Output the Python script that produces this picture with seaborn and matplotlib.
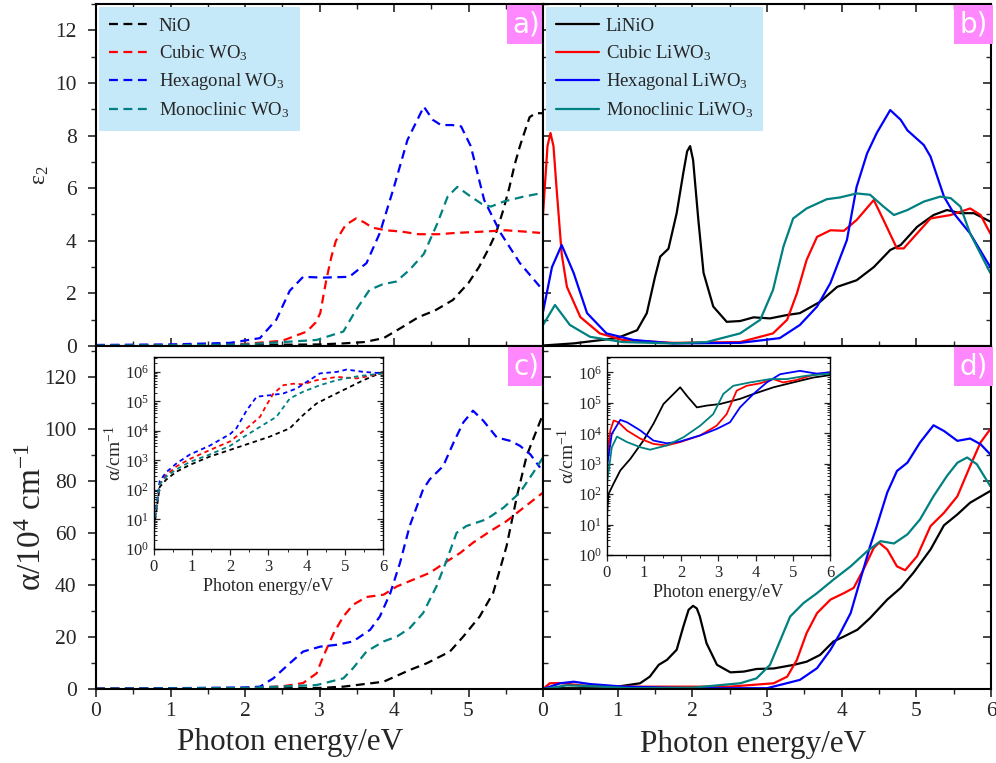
import numpy as np
import pandas as pd
import matplotlib
matplotlib.use("Agg")
import matplotlib.pyplot as plt
import seaborn as sns
from matplotlib.ticker import MultipleLocator, LogLocator, NullFormatter

# ----------------------------------------------
# Data
# ----------------------------------------------
# a) eps2, pristine oxides (dashed)
a_nio_e = [0, 1, 2, 3.0, 3.32, 3.6, 3.86, 4.1, 4.33, 4.55, 4.79, 5.0, 5.14, 5.27, 5.37, 5.47, 5.55, 5.62, 5.69, 5.76, 5.82, 5.9, 6.0]
a_nio_v = [0.03, 0.03, 0.04, 0.06, 0.1, 0.15, 0.3, 0.7, 1.1, 1.35, 1.75, 2.4, 3.0, 3.7, 4.3, 5.2, 6.05, 6.9, 7.6, 8.2, 8.7, 8.85, 8.85]
a_cub_e = [0, 1, 2, 2.5, 2.83, 2.95, 3.01, 3.09, 3.16, 3.22, 3.35, 3.49, 3.6, 3.71, 3.89, 4.1, 4.33, 4.6, 4.83, 5.2, 5.5, 5.75, 5.96]
a_cub_v = [0.03, 0.04, 0.08, 0.2, 0.55, 0.9, 1.25, 2.5, 3.4, 4.0, 4.6, 4.85, 4.7, 4.5, 4.4, 4.35, 4.25, 4.25, 4.3, 4.35, 4.4, 4.35, 4.3]
a_hex_e = [0, 1, 1.8, 2.2, 2.42, 2.6, 2.78, 3.05, 3.4, 3.63, 3.81, 4.0, 4.18, 4.4, 4.52, 4.63, 4.78, 4.9, 5.03, 5.21, 5.43, 5.69, 5.96]
a_hex_v = [0.04, 0.06, 0.12, 0.3, 1.0, 2.1, 2.63, 2.6, 2.63, 3.15, 4.3, 6.05, 7.83, 9.1, 8.6, 8.4, 8.4, 8.35, 7.6, 5.55, 4.3, 3.15, 2.25]
a_mon_e = [0, 1, 2, 2.96, 3.32, 3.49, 3.67, 3.85, 4.03, 4.21, 4.4, 4.58, 4.72, 4.85, 5.03, 5.18, 5.3, 5.48, 5.74, 5.96]
a_mon_v = [0.02, 0.03, 0.06, 0.23, 0.55, 1.37, 2.13, 2.35, 2.45, 2.9, 3.5, 4.65, 5.68, 6.05, 5.68, 5.4, 5.3, 5.5, 5.68, 5.8]

# b) eps2, lithiated (solid)
b_linio_e = [0, 0.41, 0.99, 1.26, 1.39, 1.5, 1.57, 1.68, 1.79, 1.88, 1.93, 1.97, 2.01, 2.08, 2.15, 2.28, 2.46, 2.64, 2.82, 3.04, 3.27, 3.44, 3.71, 3.94, 4.2, 4.43, 4.65, 4.79, 5.01, 5.23, 5.41, 5.59, 5.77, 5.99]
b_linio_v = [0.02, 0.1, 0.3, 0.6, 1.25, 2.63, 3.4, 3.7, 5.05, 6.6, 7.4, 7.6, 7.07, 4.8, 2.78, 1.5, 0.92, 0.95, 1.09, 1.05, 1.18, 1.25, 1.68, 2.25, 2.5, 3.0, 3.65, 3.84, 4.53, 4.98, 5.17, 5.05, 5.05, 4.73]
b_cub_e = [0, 0.06, 0.1, 0.14, 0.18, 0.25, 0.32, 0.5, 0.76, 1.07, 1.74, 2.64, 3.08, 3.27, 3.4, 3.53, 3.67, 3.85, 4.03, 4.2, 4.43, 4.56, 4.74, 4.83, 5.01, 5.19, 5.46, 5.72, 5.86, 5.99]
b_cub_v = [5.0, 7.6, 8.1, 7.6, 6.05, 3.5, 2.25, 1.1, 0.48, 0.23, 0.12, 0.15, 0.48, 1.0, 2.0, 3.27, 4.15, 4.4, 4.38, 4.79, 5.55, 4.79, 3.71, 3.71, 4.28, 4.85, 4.98, 5.23, 4.98, 4.28]
b_hex_e = [0, 0.12, 0.25, 0.41, 0.59, 0.85, 1.21, 1.74, 2.64, 3.17, 3.44, 3.67, 3.85, 4.07, 4.2, 4.34, 4.47, 4.65, 4.79, 4.88, 5.1, 5.19, 5.37, 5.5, 5.72, 5.99]
b_hex_v = [1.3, 3.0, 3.84, 2.78, 1.25, 0.48, 0.23, 0.1, 0.12, 0.3, 0.8, 1.5, 2.4, 4.03, 6.05, 7.32, 8.1, 8.97, 8.6, 8.2, 7.64, 7.2, 5.68, 5.05, 4.28, 3.0]
b_mon_e = [0, 0.16, 0.36, 0.63, 1.07, 1.74, 2.19, 2.64, 2.91, 3.08, 3.22, 3.35, 3.53, 3.8, 3.98, 4.2, 4.38, 4.56, 4.7, 4.88, 5.1, 5.32, 5.46, 5.59, 5.72, 5.99]
b_mon_v = [0.8, 1.56, 0.8, 0.35, 0.15, 0.1, 0.15, 0.48, 1.0, 2.13, 3.78, 4.85, 5.23, 5.58, 5.65, 5.8, 5.75, 5.3, 4.98, 5.17, 5.49, 5.68, 5.62, 5.3, 4.28, 2.78]

# c) alpha / 1e4 cm-1, pristine oxides
c_nio_e = [0, 1, 2, 3.0, 3.32, 3.86, 4.21, 4.44, 4.75, 4.93, 5.15, 5.33, 5.51, 5.65, 5.78, 5.92, 6.0]
c_nio_v = [0.1, 0.1, 0.2, 0.4, 0.9, 2.8, 7.3, 9.9, 14.4, 20.2, 27.9, 36.9, 54.9, 74.2, 89.7, 100, 105.8]
c_cub_e = [0, 1, 2, 2.5, 2.78, 2.96, 3.05, 3.19, 3.32, 3.45, 3.63, 3.86, 4.04, 4.26, 4.48, 4.71, 4.89, 5.06, 5.29, 5.51, 5.74, 6.0]
c_cub_v = [0.1, 0.2, 0.4, 1.0, 2.3, 6.0, 12.5, 21.5, 27.9, 32.4, 35.4, 36.3, 39.5, 42.1, 44.7, 49.1, 52.4, 56.3, 60.7, 64.6, 69.8, 75.6]
c_hex_e = [0, 1, 2, 2.2, 2.38, 2.6, 2.78, 3.01, 3.23, 3.45, 3.68, 3.81, 3.95, 4.08, 4.21, 4.39, 4.48, 4.66, 4.8, 4.93, 5.06, 5.2, 5.38, 5.56, 5.69, 5.83, 5.96]
c_hex_v = [0.1, 0.3, 0.6, 0.9, 4.1, 9.9, 14.4, 16.3, 17.0, 18.3, 22.8, 27.9, 36.9, 48.5, 62.7, 76.8, 80.7, 85.8, 94.9, 102.6, 107.1, 103.2, 96.8, 95.5, 93.6, 90.3, 85.2]
c_mon_e = [0, 1, 2, 2.96, 3.32, 3.45, 3.63, 3.86, 4.04, 4.21, 4.39, 4.57, 4.71, 4.84, 4.97, 5.24, 5.47, 5.69, 5.87, 6.0]
c_mon_v = [0.1, 0.2, 0.4, 1.5, 4.1, 8.0, 14.4, 18.3, 20.2, 23.4, 29.2, 39.5, 49.8, 60.1, 62.7, 65.3, 69.8, 75.6, 83.3, 89.1]

# d) alpha / 1e4 cm-1, lithiated
d_linio_e = [0, 0.23, 0.85, 1.3, 1.43, 1.55, 1.66, 1.79, 1.88, 1.95, 2.01, 2.06, 2.1, 2.19, 2.33, 2.51, 2.69, 2.86, 3.09, 3.36, 3.53, 3.71, 3.89, 4.03, 4.21, 4.38, 4.61, 4.79, 4.96, 5.19, 5.37, 5.55, 5.72, 5.99]
d_linio_v = [0.0, 0.3, 0.3, 2.2, 4.75, 9.3, 11.2, 15.1, 24.1, 30.5, 32.0, 31.0, 27.9, 17.6, 9.3, 6.4, 6.7, 7.7, 7.9, 9.3, 10.5, 13.1, 18.3, 20.2, 22.8, 27.3, 34.4, 38.9, 44.7, 53.7, 63.0, 67.2, 71.7, 76.2]
d_cub_e = [0, 0.09, 0.23, 0.5, 0.85, 2.5, 3.09, 3.27, 3.4, 3.53, 3.67, 3.85, 4.03, 4.16, 4.29, 4.43, 4.5, 4.61, 4.74, 4.85, 5.01, 5.19, 5.37, 5.55, 5.72, 5.86, 5.99]
d_cub_v = [0.0, 2.2, 2.3, 1.4, 0.9, 0.9, 2.2, 4.75, 11.2, 21.5, 29.2, 34.4, 36.9, 38.9, 45.9, 54.3, 56.3, 53.7, 47.2, 45.7, 51.1, 62.7, 67.8, 74.2, 85.8, 94.9, 100]
d_hex_e = [0, 0.23, 0.41, 0.63, 1.08, 2.0, 3.0, 3.44, 3.67, 3.85, 3.98, 4.12, 4.25, 4.38, 4.47, 4.61, 4.74, 4.88, 5.05, 5.23, 5.37, 5.55, 5.72, 5.86, 5.99]
d_hex_v = [0.0, 2.2, 2.8, 1.9, 0.9, 0.3, 0.3, 3.5, 8.0, 15.1, 21.5, 29.2, 42.1, 54.9, 62.7, 75.6, 83.9, 87.1, 94.9, 101.5, 99.3, 95.5, 96.4, 94.2, 90.3]
d_mon_e = [0, 0.32, 0.63, 1.2, 2.0, 2.64, 2.86, 3.04, 3.18, 3.31, 3.49, 3.67, 3.89, 4.12, 4.34, 4.52, 4.7, 4.88, 5.05, 5.23, 5.41, 5.55, 5.68, 5.81, 5.99]
d_mon_v = [0.0, 1.4, 1.1, 0.3, 0.5, 2.2, 4.1, 9.3, 18.9, 27.9, 33.1, 36.9, 42.1, 47.2, 53.0, 56.9, 56.0, 59.5, 65.3, 74.2, 82.0, 87.1, 89.1, 86.5, 78.1]

# inset c: log10(alpha / cm-1)
ic_e = [0, 0.15, 0.32, 0.59, 0.94, 1.46, 2.0]
ic_nio_lo = [0.7, 2.1, 2.35, 2.62, 2.85, 3.13, 3.36]
ic_nio_e = [2.51, 3.04, 3.56, 3.91, 4.26, 4.61, 5.05, 5.49, 6.0]
ic_nio_hi = [3.58, 3.81, 4.09, 4.54, 4.93, 5.16, 5.44, 5.72, 6.0]
ic_cub_lo = [0.8, 2.2, 2.5, 2.8, 3.05, 3.35, 3.65]
ic_cub_e = [2.43, 2.78, 2.95, 3.13, 3.39, 3.65, 3.91, 4.26, 4.79, 5.32, 5.75, 6.0]
ic_cub_hi = [4.09, 4.48, 4.88, 5.27, 5.55, 5.6, 5.58, 5.72, 5.83, 5.78, 5.89, 5.95]
ic_hex_lo = [0.8, 2.3, 2.6, 2.9, 3.2, 3.5, 3.9]
ic_hex_e = [2.16, 2.43, 2.69, 3.04, 3.39, 3.74, 4.0, 4.35, 4.79, 5.05, 5.49, 6.0]
ic_hex_hi = [4.09, 4.7, 5.16, 5.21, 5.27, 5.44, 5.66, 5.95, 6.0, 6.08, 6.0, 5.95]
ic_mon_lo = [0.8, 2.2, 2.45, 2.7, 2.95, 3.2, 3.5]
ic_mon_e = [2.43, 2.78, 3.21, 3.56, 3.91, 4.35, 4.79, 5.23, 5.58, 6.0]
ic_mon_hi = [3.86, 4.14, 4.48, 5.1, 5.33, 5.55, 5.72, 5.83, 5.89, 5.95]

# inset d: log10(alpha / cm-1)
id_linio_e = [0, 0.04, 0.18, 0.36, 0.63, 0.98, 1.25, 1.52, 1.7, 1.97, 2.15, 2.42, 2.69, 3.04, 3.58, 3.94, 4.48, 5.01, 5.55, 6.0]
id_linio_v = [1.3, 2.0, 2.35, 2.78, 3.16, 3.76, 4.31, 4.96, 5.18, 5.51, 5.23, 4.85, 4.91, 4.96, 5.13, 5.29, 5.51, 5.67, 5.83, 5.91]
id_cub_e = [0, 0.09, 0.18, 0.31, 0.54, 0.9, 1.25, 1.61, 1.97, 2.51, 2.95, 3.22, 3.49, 3.76, 4.12, 4.48, 4.74, 5.1, 5.55, 6.0]
id_cub_v = [3.2, 4.09, 4.42, 4.36, 4.09, 3.82, 3.65, 3.6, 3.71, 3.93, 4.25, 4.63, 5.4, 5.56, 5.64, 5.78, 5.67, 5.75, 5.92, 6.0]
id_hex_e = [0, 0.13, 0.36, 0.54, 0.9, 1.25, 1.61, 1.97, 2.51, 2.95, 3.31, 3.58, 3.94, 4.3, 4.66, 5.19, 5.64, 6.0]
id_hex_v = [2.9, 3.98, 4.44, 4.36, 4.09, 3.76, 3.67, 3.73, 3.93, 4.14, 4.36, 4.85, 5.29, 5.67, 5.94, 6.05, 5.96, 6.0]
id_mon_e = [0, 0.13, 0.27, 0.54, 0.9, 1.16, 1.61, 2.06, 2.51, 2.86, 3.13, 3.4, 3.85, 4.39, 4.83, 5.37, 6.0]
id_mon_v = [2.35, 3.54, 3.89, 3.71, 3.54, 3.46, 3.6, 3.87, 4.25, 4.63, 5.29, 5.56, 5.67, 5.78, 5.78, 5.89, 5.96]

labels_a = ['NiO', 'Cubic WO$_3$', 'Hexagonal WO$_3$', 'Monoclinic WO$_3$']
labels_b = ['LiNiO', 'Cubic LiWO$_3$', 'Hexagonal LiWO$_3$', 'Monoclinic LiWO$_3$']
colors = ['black', '#ff0000', '#0000ff', '#008080']

# ----------------------------------------------
# Style
# ----------------------------------------------
sns.set_style("ticks")
plt.rcParams['font.family'] = ['Liberation Serif', 'DejaVu Serif']
plt.rcParams['mathtext.fontset'] = 'custom'
plt.rcParams['mathtext.rm'] = 'Liberation Serif'
plt.rcParams['mathtext.it'] = 'Liberation Serif:italic'
plt.rcParams['axes.linewidth'] = 1.5
plt.rcParams['axes.edgecolor'] = 'black'

DASH = (0, (4, 2.5))
fig = plt.figure(figsize=(9.96, 7.63), dpi=100)
ax_a = fig.add_axes([0.0964, 0.5465, 0.4488, 0.4482])
ax_b = fig.add_axes([0.5452, 0.5465, 0.4498, 0.4482])
ax_c = fig.add_axes([0.0964, 0.0970, 0.4488, 0.4495])
ax_d = fig.add_axes([0.5452, 0.0970, 0.4498, 0.4495])


def draw(ax, e, v, color, ls, lw=1.6, label=None):
    sns.lineplot(x=e, y=v, ax=ax, color=color, linestyle=ls, linewidth=lw,
                 label=label, sort=False, estimator=None)


# Panel a / b
for e, v, c, lab in zip([a_nio_e, a_cub_e, a_hex_e, a_mon_e], [a_nio_v, a_cub_v, a_hex_v, a_mon_v], colors, labels_a):
    draw(ax_a, e, v, c, DASH, label=lab)
for e, v, c, lab in zip([b_linio_e, b_cub_e, b_hex_e, b_mon_e], [b_linio_v, b_cub_v, b_hex_v, b_mon_v], colors, labels_b):
    draw(ax_b, e, v, c, '-', label=lab)
for e, v, c in zip([c_nio_e, c_cub_e, c_hex_e, c_mon_e], [c_nio_v, c_cub_v, c_hex_v, c_mon_v], colors):
    draw(ax_c, e, v, c, DASH)
for e, v, c in zip([d_linio_e, d_cub_e, d_hex_e, d_mon_e], [d_linio_v, d_cub_v, d_hex_v, d_mon_v], colors):
    draw(ax_d, e, v, c, '-')

for ax in [ax_a, ax_b]:
    ax.set_ylim(0, 13)
    ax.yaxis.set_major_locator(MultipleLocator(2))
    ax.yaxis.set_minor_locator(MultipleLocator(1))
    ax.tick_params(axis='x', which='both', direction='in', labelbottom=False, top=True)
for ax in [ax_c, ax_d]:
    ax.set_ylim(0, 132)
    ax.yaxis.set_major_locator(MultipleLocator(20))
    ax.yaxis.set_minor_locator(MultipleLocator(10))
    ax.tick_params(axis='x', which='both', direction='out')
for ax in [ax_a, ax_b, ax_c, ax_d]:
    ax.set_xlim(0, 6)
    ax.xaxis.set_major_locator(MultipleLocator(1))
    ax.xaxis.set_minor_locator(MultipleLocator(0.5))
    ax.tick_params(which='major', length=6, width=1.2, labelsize=15.5)
    ax.tick_params(which='minor', length=3.5, width=1.0)
    ax.tick_params(axis='y', which='both', direction='out', right=True, pad=8)
    ax.set_xlabel('')
    ax.set_ylabel('')
for ax in [ax_b, ax_d]:
    ax.tick_params(axis='y', which='both', direction='in', labelleft=False)

ax_c.set_xticks([0, 1, 2, 3, 4, 5, 6])
ax_c.set_xticklabels(['0', '1', '2', '3', '4', '5', ''])

ax_a.set_ylabel('ε$_2$', fontsize=17)
ax_a.yaxis.set_label_coords(-0.1, 0.5)
ax_c.set_ylabel('α/10$^4$ cm$^{-1}$', fontsize=24)
ax_c.yaxis.set_label_coords(-0.108, 0.5)
ax_c.set_xlabel('Photon energy/eV', fontsize=22.5)
ax_c.xaxis.set_label_coords(0.434, -0.115)
ax_d.set_xlabel('Photon energy/eV', fontsize=22.5)
ax_d.xaxis.set_label_coords(0.47, -0.12)

for ax, labs in [(ax_a, labels_a), (ax_b, labels_b)]:
    leg = ax.legend(loc='upper left', bbox_to_anchor=(0.002, 0.996), fontsize=13.5,
                    handlelength=2.3, handletextpad=0.35, labelspacing=0.45,
                    borderpad=0.55, fancybox=False, framealpha=1, borderaxespad=0.1)
    leg.get_frame().set_facecolor('#c6e9f9')
    leg.get_frame().set_edgecolor('none')

for ax, tag in [(ax_a, 'a)'), (ax_b, 'b)'), (ax_c, 'c)'), (ax_d, 'd)')]:
    ax.text(0.993, 0.982, tag, transform=ax.transAxes, ha='right', va='top',
            fontsize=20, color='white', family=['DejaVu Sans'],
            bbox=dict(boxstyle='square,pad=0.2', facecolor='#ff88ff', edgecolor='none'))

# ----------------------------------------------
# Insets (log scale)
# ----------------------------------------------
in_c = fig.add_axes([0.1546, 0.2805, 0.2299, 0.2516])
in_d = fig.add_axes([0.6094, 0.2726, 0.2239, 0.2595])

for lo, e_hi, hi, c in zip([ic_nio_lo, ic_cub_lo, ic_hex_lo, ic_mon_lo],
                           [ic_nio_e, ic_cub_e, ic_hex_e, ic_mon_e],
                           [ic_nio_hi, ic_cub_hi, ic_hex_hi, ic_mon_hi], colors):
    ee = ic_e + e_hi
    vv = 10.0 ** np.array(lo + hi)
    draw(in_c, ee, vv, c, (0, (2.5, 2)), lw=1.3)
for e, v, c in zip([id_linio_e, id_cub_e, id_hex_e, id_mon_e], [id_linio_v, id_cub_v, id_hex_v, id_mon_v], colors):
    draw(in_d, e, 10.0 ** np.array(v), c, '-', lw=1.3)

for ax in [in_c, in_d]:
    ax.set_yscale('log')
    ax.set_ylim(1, 3.2e6)
    ax.set_xlim(0, 6)
    ax.xaxis.set_major_locator(MultipleLocator(1))
    ax.xaxis.set_minor_locator(MultipleLocator(0.5))
    ax.yaxis.set_major_locator(LogLocator(base=10, numticks=10))
    ax.yaxis.set_minor_locator(LogLocator(base=10, subs=np.arange(2, 10), numticks=20))
    ax.yaxis.set_minor_formatter(NullFormatter())
    for s in ax.spines.values():
        s.set_linewidth(1.0)
    ax.tick_params(which='both', direction='in', top=True, right=True, labelsize=12)
    ax.tick_params(axis='x', which='both', direction='out', top=False)
    ax.tick_params(which='major', length=4, width=0.9)
    ax.tick_params(which='minor', length=2, width=0.7)
    ax.set_xlabel('Photon energy/eV', fontsize=13, labelpad=2)
    ax.set_ylabel('α/cm$^{-1}$', fontsize=14, labelpad=0)

fig.savefig('out.png', dpi=100)
